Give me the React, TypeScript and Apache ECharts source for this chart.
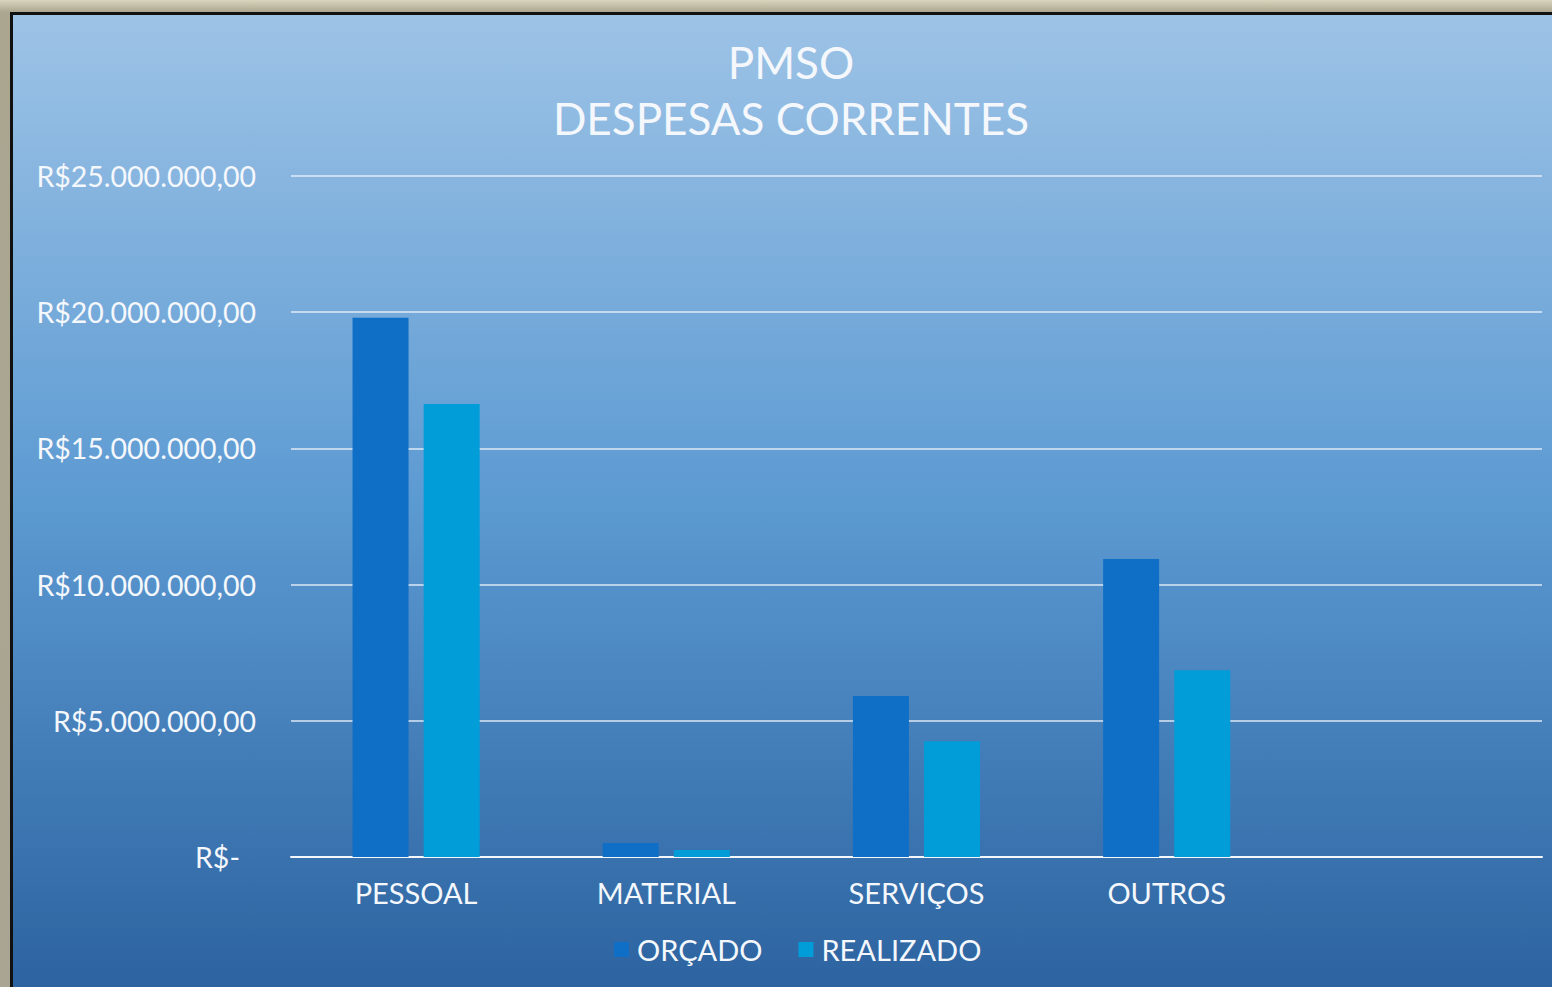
import React, { useEffect, useRef } from 'react';
import * as echarts from 'echarts';

const titleLines = ['PMSO', 'DESPESAS CORRENTES'];
const categories = ['PESSOAL', 'MATERIAL', 'SERVIÇOS', 'OUTROS', ''];
const seriesNames = ['ORÇADO', 'REALIZADO'];
const orcado = [19800000, 510000, 5910000, 10940000, null];
const realizado = [16630000, 260000, 4250000, 6860000, null];
const yMax = 25000000;
const yInterval = 5000000;

const FONT = 'Lato, "Open Sans", sans-serif';

function formatBRL(v: number): string {
  if (v === 0) return '{z|R$-}';
  const intPart = Math.floor(v).toString().replace(/\B(?=(\d{3})+(?!\d))/g, '.');
  return 'R$' + intPart + ',00';
}

export default function App() {
  const ref = useRef<HTMLDivElement>(null);
  useEffect(() => {
    if (!ref.current) return;
    const chart = echarts.init(ref.current, null, { renderer: 'svg' });
    chart.setOption({
      animation: false,
      backgroundColor: new echarts.graphic.LinearGradient(0, 0, 0, 1, [
        { offset: 0, color: '#9DC3E6' },
        { offset: 0.5, color: '#5C9AD2' },
        { offset: 1, color: '#2C63A0' },
      ]),
      title: {
        text: titleLines.join('\n'),
        left: 773,
        top: 14,
        textAlign: 'center',
        textStyle: {
          color: '#F4F7FB',
          fontFamily: FONT,
          fontWeight: 'normal',
          fontSize: 44,
          lineHeight: 56,
        },
      },
      grid: { left: 278, right: 10, top: 161, bottom: 130, containLabel: false },
      legend: {
        data: seriesNames,
        left: 596,
        top: 915,
        icon: 'rect',
        itemWidth: 15,
        itemHeight: 15,
        itemGap: 36,
        textStyle: { color: '#F4F7FB', fontFamily: FONT, fontSize: 29, padding: [0, 0, 0, 3] },
      },
      xAxis: {
        type: 'category',
        data: categories,
        axisLine: { show: true, lineStyle: { color: '#F4F7FB', width: 2 } },
        axisTick: { show: false },
        axisLabel: { color: '#F4F7FB', fontFamily: FONT, fontSize: 29, margin: 21 },
      },
      yAxis: {
        type: 'value',
        min: 0,
        max: yMax,
        interval: yInterval,
        axisLine: { show: false },
        axisTick: { show: false },
        splitLine: { lineStyle: { color: 'rgba(235,242,250,0.9)', width: 1.5 } },
        axisLabel: {
          color: '#F4F7FB',
          fontFamily: FONT,
          fontSize: 28.5,
          margin: 35,
          formatter: (v: number) => formatBRL(v),
          rich: {
            z: { color: '#F4F7FB', fontFamily: FONT, fontSize: 28.5, padding: [0, 16, 0, 0] },
          },
        },
      },
      series: [
        {
          name: seriesNames[0],
          type: 'bar',
          data: orcado,
          barWidth: 56,
          barGap: '27%',
          itemStyle: { color: '#0F6FC6' },
        },
        {
          name: seriesNames[1],
          type: 'bar',
          data: realizado,
          barWidth: 56,
          barGap: '27%',
          itemStyle: { color: '#009DD9' },
        },
      ],
    });
    return () => chart.dispose();
  }, []);

  return (
    <div
      style={{
        position: 'fixed',
        left: 0,
        top: 0,
        width: 1552,
        height: 987,
        overflow: 'hidden',
        background: 'linear-gradient(180deg, #d9d5bd 0px, #aaa690 12px, #a9a592 100%)',
      }}
    >
      <div
        style={{
          position: 'absolute',
          left: 10,
          top: 12,
          width: 1560,
          height: 1000,
          borderLeft: '3px solid #111',
          borderTop: '3px solid #111',
        }}
      >
        <div ref={ref} style={{ width: 1539, height: 972 }} />
      </div>
    </div>
  );
}
